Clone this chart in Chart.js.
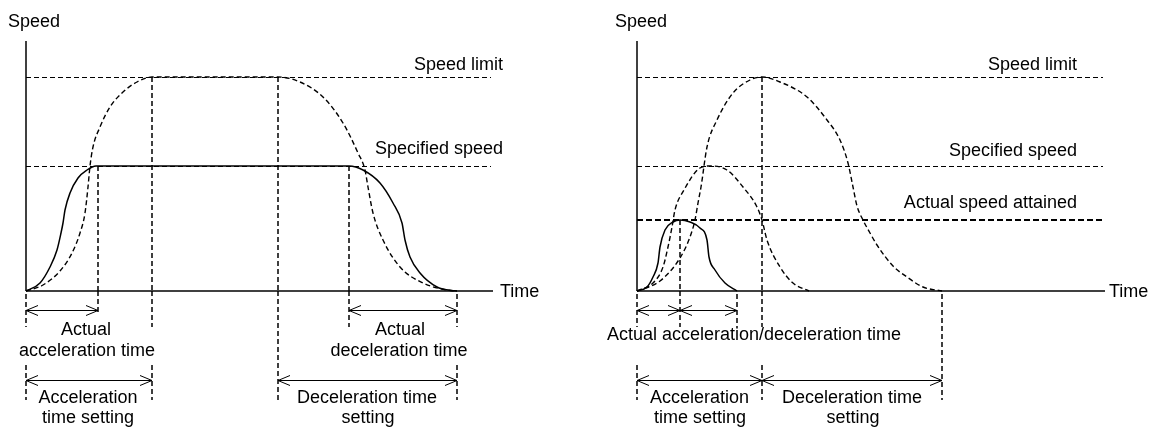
<!DOCTYPE html>
<html>
<head>
<meta charset="utf-8">
<script src="https://cdn.jsdelivr.net/npm/chart.js@4.4.1/dist/chart.umd.min.js"></script>
<style>
  body { margin: 0; background: #fff; width: 1157px; height: 428px; overflow: hidden; position: relative; }
  canvas { position: absolute; top: 0; }
</style>
</head>
<body>
<canvas id="left" width="578" height="428" style="left:0"></canvas>
<canvas id="right" width="579" height="428" style="left:578px"></canvas>
<script>
// speed in % of axis height, time in s (axis is 0..4.67 s)
const speedLimit = 85.6;
const specSpeed = 50;
const attainedSpeed = 28.4;

// left panel: command reaches the specified speed
const leftActualT = [0, 0.14, 0.24, 0.31, 0.35, 0.37, 0.39, 0.44, 0.52, 0.61, 0.70, 3.23, 3.37, 3.54, 3.67, 3.76, 3.79, 3.84, 3.94, 4.11, 4.25, 4.31];
const leftActualV = [0, 3.2, 9.6, 16.4, 23.2, 27.2, 32.4, 39.2, 45.2, 48.4, 50, 50, 48.4, 43.2, 35.2, 27.2, 20.4, 13.6, 7.2, 1.6, 0.2, 0];
const leftLimitT = [0, 0.17, 0.34, 0.46, 0.54, 0.59, 0.62, 0.64, 0.67, 0.74, 0.84, 0.97, 1.11, 1.26, 2.52, 2.74, 2.97, 3.17, 3.32, 3.39, 3.42, 3.47, 3.57, 3.74, 3.97, 4.21, 4.31];
const leftLimitV = [0, 2.4, 8, 15.2, 23.2, 31.2, 41.6, 50, 57.6, 65.6, 73.6, 79.6, 83.6, 85.6, 85.6, 83.6, 77.6, 67.2, 55.2, 48.4, 41.6, 31.2, 20.4, 9.6, 3.2, 0.4, 0];

// right panel: short command, speed never reached
const rightActualT = [0, 0.10, 0.16, 0.21, 0.23, 0.28, 0.36, 0.43, 0.53, 0.63, 0.70, 0.72, 0.78, 0.88, 1.00];
const rightActualV = [0, 1.6, 5.6, 11.2, 17.6, 24.4, 27.6, 28.4, 27.6, 25.2, 20.4, 13.6, 8.4, 3.2, 0];
const rightSpecT = [0, 0.16, 0.26, 0.31, 0.35, 0.38, 0.47, 0.63, 0.73, 0.90, 1.06, 1.20, 1.25, 1.30, 1.43, 1.56, 1.72];
const rightSpecV = [0, 3.2, 9.6, 17.6, 25.6, 32.4, 40.4, 49.2, 50, 48.4, 41.6, 33.6, 28.4, 20.4, 9.6, 3.2, 0];
const rightLimitT = [0, 0.23, 0.43, 0.53, 0.58, 0.61, 0.64, 0.70, 0.80, 0.96, 1.13, 1.25, 1.43, 1.70, 1.90, 2.03, 2.11, 2.16, 2.20, 2.26, 2.33, 2.40, 2.56, 2.70, 2.86, 3.05];
const rightLimitV = [0, 4, 13.2, 21.6, 28.4, 35.2, 41.6, 57.6, 68.4, 79.2, 84.4, 85.6, 83.6, 77.6, 68.4, 60.4, 51.2, 41.6, 34, 28.4, 23.2, 18.4, 10, 5.6, 1.6, 0];

const FONT = '18px "Liberation Sans", Arial, sans-serif';

function pts(t, v) {
  return t.map((x, i) => ({ x: x, y: v[i] }));
}

function curve(t, v, dashed) {
  return {
    data: pts(t, v),
    borderColor: '#000',
    borderWidth: dashed ? 1.4 : 1.5,
    borderDash: dashed ? [5, 3] : [],
    pointRadius: 0,
    fill: false,
    clip: false,
    cubicInterpolationMode: 'monotone'
  };
}

// draws axes, guide lines, arrows and the texts
function diagram(cfg) {
  return {
    id: 'diagram',
    afterDraw(chart) {
      const ctx = chart.ctx;
      const a = chart.chartArea;
      const xs = chart.scales.x, ys = chart.scales.y;
      ctx.save();
      ctx.strokeStyle = '#000';
      ctx.fillStyle = '#000';
      ctx.font = FONT;

      function line(x1, y1, x2, y2, w, dash) {
        ctx.beginPath();
        ctx.lineWidth = w;
        ctx.setLineDash(dash);
        ctx.moveTo(x1, y1);
        ctx.lineTo(x2, y2);
        ctx.stroke();
      }

      line(a.left, a.top, a.left, a.bottom, 1.5, []);
      line(a.left, a.bottom, a.right, a.bottom, 1.5, []);

      ctx.textBaseline = 'alphabetic';
      ctx.textAlign = 'left';
      ctx.fillText('Speed', a.left + cfg.speedDx, a.top - 14);
      ctx.fillText('Time', a.right + cfg.timeDx, a.bottom + 6);

      cfg.levels.forEach(l => {
        const py = ys.getPixelForValue(l.v);
        const w = l.w || 1;
        const yy = w % 2 ? Math.round(py) + 0.5 : Math.round(py);
        line(a.left, yy, a.right - 2, yy, w, l.dash || [5, 3]);
        ctx.textAlign = 'right';
        ctx.fillText(l.label, a.right + cfg.labelDx, py - l.off);
      });

      cfg.verticals.forEach(v => {
        const px = xs.getPixelForValue(v.t);
        if (v.from > 0) line(px, ys.getPixelForValue(v.from), px, a.bottom, 1.5, [5, 3]);
        v.segs.forEach(s => line(px, a.bottom + s[0], px, a.bottom + s[1], 1.5, [5, 3]));
      });

      cfg.arrows.forEach(r => {
        const x1 = xs.getPixelForValue(r.a), x2 = xs.getPixelForValue(r.b);
        const py = a.bottom + r.dy + 0.5;
        line(x1, py, x2, py, 1, []);
        line(x1, py, x1 + 12, py - 5, 1, []);
        line(x1, py, x1 + 12, py + 5, 1, []);
        line(x2, py, x2 - 12, py - 5, 1, []);
        line(x2, py, x2 - 12, py + 5, 1, []);
      });

      ctx.textAlign = 'center';
      cfg.texts.forEach(t => ctx.fillText(t[0], xs.getPixelForValue(t[1]), a.bottom + t[2]));
      ctx.restore();
    }
  };
}

function makeChart(id, datasets, pad, xMax, cfg) {
  return new Chart(document.getElementById(id), {
    type: 'line',
    data: { datasets: datasets },
    options: {
      responsive: false,
      animation: false,
      events: [],
      layout: { padding: pad },
      scales: {
        x: { type: 'linear', min: 0, max: xMax, display: false },
        y: { type: 'linear', min: 0, max: 100, display: false }
      },
      plugins: { legend: { display: false }, tooltip: { enabled: false } }
    },
    plugins: [diagram(cfg)]
  });
}

makeChart('left',
  [curve(leftActualT, leftActualV, false), curve(leftLimitT, leftLimitV, true)],
  { left: 26, right: 85, top: 41, bottom: 137 }, 4.67,
  {
    speedDx: -18, timeDx: 7, labelDx: 10,
    levels: [
      { v: speedLimit, label: 'Speed limit', off: 7 },
      { v: specSpeed, label: 'Specified speed', off: 12 }
    ],
    verticals: [
      { t: 0, from: 0, segs: [[3, 36], [74, 109]] },
      { t: 0.72, from: specSpeed, segs: [[0, 24]] },
      { t: 1.26, from: speedLimit, segs: [[0, 36], [74, 109]] },
      { t: 2.52, from: speedLimit, segs: [[0, 109]] },
      { t: 3.23, from: specSpeed, segs: [[0, 36]] },
      { t: 4.31, from: 0, segs: [[3, 36], [74, 109]] }
    ],
    arrows: [
      { a: 0, b: 0.72, dy: 19 }, { a: 3.23, b: 4.31, dy: 19 },
      { a: 0, b: 1.26, dy: 89 }, { a: 2.52, b: 4.31, dy: 89 }
    ],
    texts: [
      ['Actual', 0.60, 44], ['acceleration time', 0.61, 65],
      ['Acceleration', 0.62, 112], ['time setting', 0.62, 132],
      ['Actual', 3.74, 44], ['deceleration time', 3.73, 65],
      ['Deceleration time', 3.41, 112], ['setting', 3.42, 132]
    ]
  });

makeChart('right',
  [curve(rightActualT, rightActualV, false), curve(rightSpecT, rightSpecV, true), curve(rightLimitT, rightLimitV, true)],
  { left: 59, right: 52, top: 41, bottom: 137 }, 4.68,
  {
    speedDx: -22, timeDx: 4, labelDx: -28,
    levels: [
      { v: speedLimit, label: 'Speed limit', off: 7 },
      { v: specSpeed, label: 'Specified speed', off: 10 },
      { v: attainedSpeed, label: 'Actual speed attained', off: 12, w: 2, dash: [6, 3] }
    ],
    verticals: [
      { t: 0, from: 0, segs: [[3, 36], [74, 109]] },
      { t: 0.43, from: attainedSpeed, segs: [[0, 36]] },
      { t: 1.00, from: 0, segs: [[3, 36]] },
      { t: 1.25, from: speedLimit, segs: [[0, 36], [74, 109]] },
      { t: 3.05, from: 0, segs: [[3, 109]] }
    ],
    arrows: [
      { a: 0, b: 0.43, dy: 19 }, { a: 0.43, b: 1.00, dy: 19 },
      { a: 0, b: 1.25, dy: 89 }, { a: 1.25, b: 3.05, dy: 89 }
    ],
    texts: [
      ['Actual acceleration/deceleration time', 1.17, 49],
      ['Acceleration', 0.625, 112], ['time setting', 0.63, 132],
      ['Deceleration time', 2.15, 112], ['setting', 2.16, 132]
    ]
  });
</script>
</body>
</html>
